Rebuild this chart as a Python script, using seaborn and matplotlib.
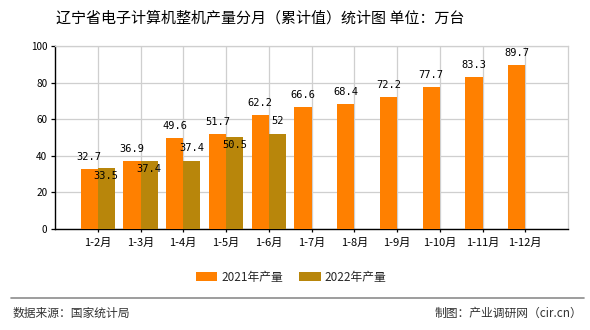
import numpy as np
import pandas as pd
import matplotlib
matplotlib.use("Agg")
import matplotlib.pyplot as plt
import seaborn as sns

# Cumulative monthly output of complete computers, Liaoning (10k units)
months = ["1-2月", "1-3月", "1-4月", "1-5月", "1-6月", "1-7月",
          "1-8月", "1-9月", "1-10月", "1-11月", "1-12月"]
output_2021 = [32.7, 36.9, 49.6, 51.7, 62.2, 66.6, 68.4, 72.2, 77.7, 83.3, 89.7]
output_2022 = [33.5, 37.4, 37.4, 50.5, 52]
series_names = ["2021年产量", "2022年产量"]
y_ticks = [0, 20, 40, 60, 80, 100]

# Where each 2022 value label sits relative to its bar top
label_side_2022 = ["below", "below", "above", "below", "above"]

colors = ["#FF8000", "#B8860B"]

sns.set_theme(style="white")
plt.rcParams["font.family"] = ["Noto Sans CJK SC", "DejaVu Sans"]

rows = []
for m, v in zip(months, output_2021):
    rows.append({"month": m, "value": v, "series": series_names[0]})
for m, v in zip(months, output_2022):
    rows.append({"month": m, "value": v, "series": series_names[1]})
df = pd.DataFrame(rows)

fig = plt.figure(figsize=(5.9, 3.3), dpi=100)
ax = fig.add_axes([55 / 590, 1 - 229 / 330, 513 / 590, 183 / 330])

sns.barplot(data=df, x="month", y="value", hue="series", order=months,
            hue_order=series_names, palette=colors, width=0.8, gap=0,
            saturation=1, errorbar=None, ax=ax, legend=True, zorder=3,
            linewidth=0, edgecolor="none")

ax.set_xlim(-1, 11)
ax.set_ylim(0, 100)
ax.set_yticks(y_ticks)
ax.set_xlabel("")
ax.set_ylabel("")

ax.grid(True, axis="both", color="#CFCFCF", linewidth=0.9, zorder=0)
ax.set_axisbelow(True)
for side in ["top", "right"]:
    ax.spines[side].set_color("#CFCFCF")
    ax.spines[side].set_linewidth(0.9)
for side in ["left", "bottom"]:
    ax.spines[side].set_color("black")
    ax.spines[side].set_linewidth(1.0)

ax.tick_params(axis="y", direction="out", length=3, width=0.9, color="black",
               labelsize=7.2, pad=2.5, left=True)
ax.tick_params(axis="x", direction="out", length=2.5, width=0.9, color="black",
               labelsize=8, pad=4, bottom=True)
for lbl in ax.get_xticklabels() + ax.get_yticklabels():
    lbl.set_color("black")

# Value labels
mono = dict(family="DejaVu Sans Mono", fontsize=7.5, color="black",
            ha="center", va="center", zorder=5)
for bar, v in zip(ax.containers[0], output_2021):
    ax.annotate(f"{v:g}", (bar.get_x() + bar.get_width() / 2, v),
                xytext=(0, 12), textcoords="offset pixels", **mono)
for bar, v, side in zip(ax.containers[1], output_2022, label_side_2022):
    dy = 12.5 if side == "above" else -8.5
    ax.annotate(f"{v:g}", (bar.get_x() + bar.get_width() / 2, v),
                xytext=(0, dy), textcoords="offset pixels", **mono)

# Legend below the plot
handles, labels = ax.get_legend_handles_labels()
ax.get_legend().remove()
fig.legend(handles, labels, loc="center", bbox_to_anchor=(291 / 590, 1 - 277 / 330),
           ncol=2, frameon=False, fontsize=8.5, handlelength=1.8,
           handleheight=0.85, handletextpad=0.35, columnspacing=1.4)

# Title
fig.text(260 / 590, 1 - 18 / 330, "辽宁省电子计算机整机产量分月（累计值）统计图 单位：万台",
         ha="center", va="center", fontsize=10.8, color="black")

# Footer separator and source notes
fig.add_artist(plt.Line2D([11 / 590, 584 / 590], [1 - 298 / 330, 1 - 298 / 330],
                          color="#8C8C8C", linewidth=1.2))
fig.text(13 / 590, 1 - 313 / 330, "数据来源：国家统计局", ha="left", va="center",
         fontsize=8.5, color="#333333")
fig.text(582 / 590, 1 - 313 / 330, "制图：产业调研网（cir.cn）", ha="right", va="center",
         fontsize=8.5, color="#333333")

fig.savefig("out.png", dpi=100)
